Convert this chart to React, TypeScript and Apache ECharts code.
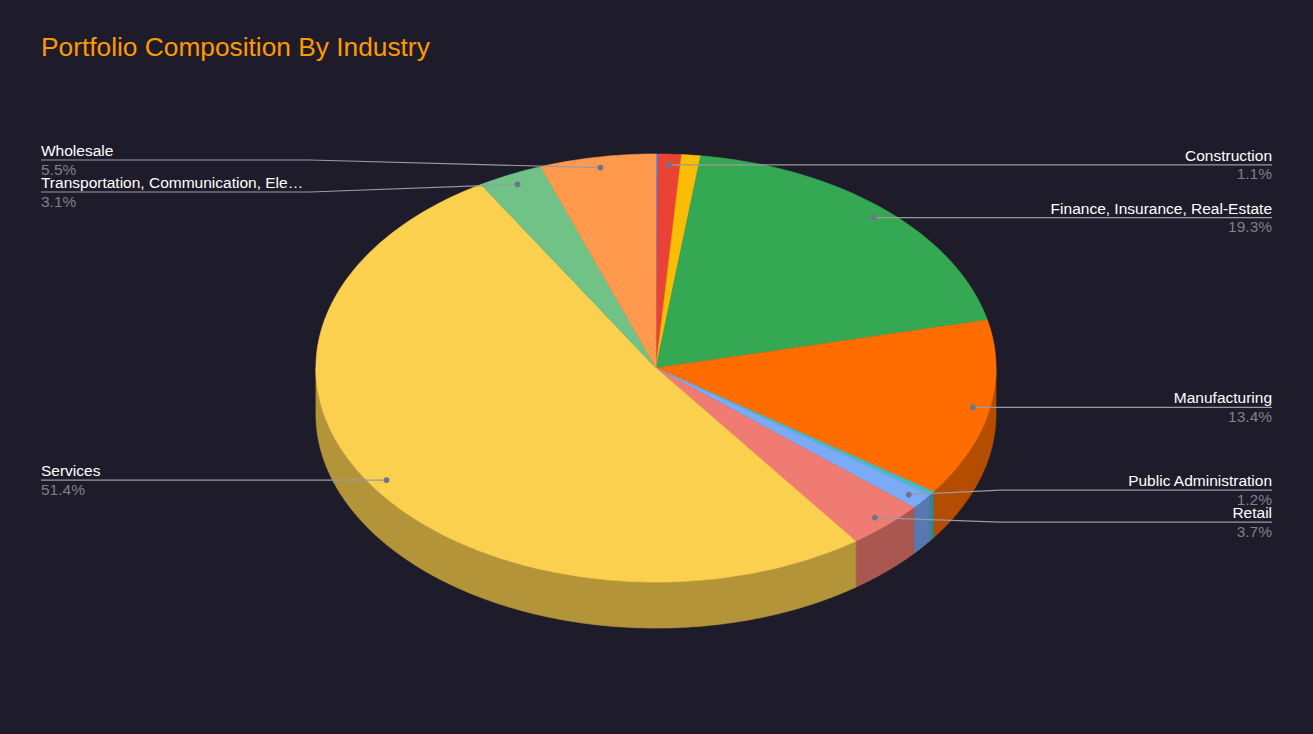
import React, { useEffect, useRef } from "react";
import * as echarts from "echarts";

const titleText = "Portfolio Composition By Industry";
const names = [
  "Agriculture, Forestry, Fishing",
  "Construction",
  "Energy",
  "Finance, Insurance, Real-Estate",
  "Manufacturing",
  "Mining",
  "Public Administration",
  "Retail",
  "Services",
  "Transportation, Communication, Electric, Gas, Sanitary Services",
  "Wholesale",
];
const values = [0.1, 1.1, 0.9, 19.3, 13.4, 0.3, 1.2, 3.7, 51.4, 3.1, 5.5];
const colors = [
  "#4285F4", "#EA4335", "#FBBC04", "#34A853", "#FF6D01", "#46BDC6",
  "#7BAAF7", "#F07B72", "#FCD04F", "#71C287", "#FF994D",
];
const labelMin = 1;

const BG = "#1e1c2a";
const FONT = "'Liberation Sans', Arial, Helvetica, sans-serif";

function darken(hex: string, f: number) {
  const n = parseInt(hex.slice(1), 16);
  const r = Math.round(((n >> 16) & 255) * f);
  const g = Math.round(((n >> 8) & 255) * f);
  const b = Math.round((n & 255) * f);
  return `rgb(${r},${g},${b})`;
}

function geom(W: number, H: number) {
  return {
    cx: W * 0.4996,
    cy: H * 0.5014,
    rx: W * 0.259,
    ry: H * 0.2916,
    depth: H * 0.0627,
  };
}

const total = values.reduce((a, b) => a + b, 0);
const angles: [number, number][] = [];
{
  let acc = 0;
  for (const v of values) {
    const a0 = (acc / total) * Math.PI * 2;
    acc += v;
    const a1 = (acc / total) * Math.PI * 2;
    angles.push([a0, a1]);
  }
}

function pt(g: any, t: number, r = 1, dy = 0): number[] {
  return [g.cx + g.rx * r * Math.sin(t), g.cy - g.ry * r * Math.cos(t) + dy];
}

function arcPts(g: any, a0: number, a1: number, dy = 0) {
  const steps = Math.max(2, Math.ceil((a1 - a0) / (Math.PI / 180)) + 1);
  const out: number[][] = [];
  for (let k = 0; k <= steps; k++) {
    out.push(pt(g, a0 + ((a1 - a0) * k) / steps, 1, dy));
  }
  return out;
}

function labelLayout(W: number, H: number) {
  const g = geom(W, H);
  const items = values
    .map((v, i) => {
      const mid = (angles[i][0] + angles[i][1]) / 2;
      const dot = pt(g, mid, 0.95);
      return { i, show: v >= labelMin, side: Math.sin(mid) >= 0 ? 1 : -1, dot, y: dot[1] };
    })
    .filter((d) => d.show);
  const gap = 32;
  for (const side of [1, -1]) {
    const list = items.filter((d) => d.side === side).sort((a, b) => a.y - b.y);
    for (let it = 0; it < 50; it++) {
      let moved = false;
      for (let k = 1; k < list.length; k++) {
        const d = list[k].y - list[k - 1].y;
        if (d < gap - 0.01) {
          const push = (gap - d) / 2;
          list[k].y += push;
          list[k - 1].y -= push;
          moved = true;
        }
      }
      if (!moved) break;
    }
  }
  const map: Record<number, any> = {};
  items.forEach((d) => (map[d.i] = d));
  return map;
}

export default function App() {
  const ref = useRef<HTMLDivElement>(null);
  useEffect(() => {
    if (!ref.current) return;
    const chart = echarts.init(ref.current, undefined, { renderer: "svg" });
    const seriesData = names.map((n, i) => ({ name: n, value: values[i] }));

    const option: any = {
      animation: false,
      backgroundColor: BG,
      title: {
        text: titleText,
        left: 36,
        top: 29,
        textStyle: { color: "#FF9900", fontSize: 26.3, fontWeight: "normal", fontFamily: FONT },
      },
      series: [
        {
          type: "custom",
          name: "walls",
          coordinateSystem: "none",
          z: 1,
          data: seriesData,
          renderItem: (params: any, api: any) => {
            const i = params.dataIndex;
            const g = geom(api.getWidth(), api.getHeight());
            const b0 = Math.max(angles[i][0], Math.PI / 2);
            const b1 = Math.min(angles[i][1], (Math.PI * 3) / 2);
            if (b1 <= b0) return { type: "group", children: [] };
            const top = arcPts(g, b0, b1, 0);
            const bot = arcPts(g, b0, b1, g.depth).reverse();
            const c = darken(colors[i], 0.71);
            return {
              type: "polygon",
              shape: { points: top.concat(bot) },
              style: { fill: c, stroke: c, lineWidth: 0.6 },
            };
          },
        },
        {
          type: "custom",
          name: "tops",
          coordinateSystem: "none",
          z: 2,
          data: seriesData,
          renderItem: (params: any, api: any) => {
            const i = params.dataIndex;
            const g = geom(api.getWidth(), api.getHeight());
            const pts = [[g.cx, g.cy]].concat(arcPts(g, angles[i][0], angles[i][1], 0));
            return {
              type: "polygon",
              shape: { points: pts },
              style: { fill: colors[i], stroke: colors[i], lineWidth: 0.6 },
            };
          },
        },
        {
          type: "custom",
          name: "labels",
          coordinateSystem: "none",
          z: 3,
          data: seriesData,
          renderItem: (params: any, api: any) => {
            const i = params.dataIndex;
            const W = api.getWidth();
            const H = api.getHeight();
            const lay = labelLayout(W, H)[i];
            if (!lay) return { type: "group", children: [] };
            const right = lay.side > 0;
            const edge = right ? W * 0.9688 : W * 0.0312;
            const knee = right ? W * 0.7616 : W * 0.236;
            const ly = lay.y;
            const kneeX = right ? Math.max(knee, lay.dot[0]) : Math.min(knee, lay.dot[0]);
            return {
              type: "group",
              children: [
                {
                  type: "polyline",
                  shape: { points: [lay.dot, [kneeX, ly], [edge, ly]] },
                  style: { stroke: "#9a9aa0", lineWidth: 1.2, fill: null },
                },
                {
                  type: "circle",
                  shape: { cx: lay.dot[0], cy: lay.dot[1], r: 3 },
                  style: { fill: "#70768a" },
                },
                {
                  type: "text",
                  x: edge,
                  y: ly - 3,
                  style: {
                    text: names[i],
                    fill: "#ffffff",
                    fontSize: 15.5,
                    lineHeight: 13,
                    fontFamily: FONT,
                    align: right ? "right" : "left",
                    verticalAlign: "bottom",
                    width: 268,
                    overflow: "truncate",
                    ellipsis: "…",
                  },
                },
                {
                  type: "text",
                  x: edge,
                  y: ly + 2.5,
                  style: {
                    text: values[i].toFixed(1) + "%",
                    fill: "#7f7f88",
                    fontSize: 15.5,
                    lineHeight: 13,
                    fontFamily: FONT,
                    align: right ? "right" : "left",
                    verticalAlign: "top",
                  },
                },
              ],
            };
          },
        },
      ],
    };
    chart.setOption(option);
    return () => chart.dispose();
  }, []);
  return (
    <div
      ref={ref}
      style={{ position: "fixed", left: 0, top: 0, width: 1313, height: 734, background: BG }}
    />
  );
}
